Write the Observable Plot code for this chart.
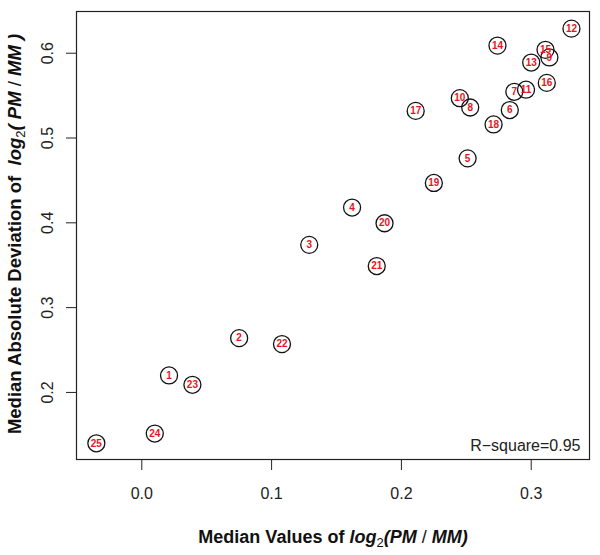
<!DOCTYPE html>
<html>
<head>
<meta charset="utf-8">
<script src="https://cdn.jsdelivr.net/npm/d3@7"></script>
<script src="https://cdn.jsdelivr.net/npm/@observablehq/plot@0.6"></script>
<style>
  html, body { margin: 0; padding: 0; background: #fff; }
  #chart svg { display: block; font-family: "Liberation Sans", Arial, sans-serif; }
</style>
</head>
<body>
<div id="chart"></div>
<script>
// Data
const labels = [1, 2, 3, 4, 5, 6, 7, 8, 9, 10, 11, 12, 13, 14, 15, 16, 17, 18, 19, 20, 21, 22, 23, 24, 25];
const medianValues = [0.021, 0.075, 0.129, 0.162, 0.251, 0.2835, 0.287, 0.253, 0.314, 0.245, 0.296, 0.331, 0.300, 0.274, 0.311, 0.312, 0.211, 0.271, 0.225, 0.187, 0.181, 0.108, 0.039, 0.010, -0.035];
const madValues = [0.220, 0.264, 0.374, 0.418, 0.476, 0.533, 0.5545, 0.536, 0.595, 0.547, 0.557, 0.629, 0.589, 0.609, 0.604, 0.565, 0.532, 0.516, 0.447, 0.3995, 0.349, 0.257, 0.209, 0.1515, 0.140];
const xTicks = [0, 0.1, 0.2, 0.3];
const yTicks = [0.2, 0.3, 0.4, 0.5, 0.6];
const rSquareText = "R\u2212square=0.95";

const points = labels.map((id, i) => ({id, x: medianValues[i], y: madValues[i]}));

const font = "'Liberation Sans', Arial, sans-serif";

const plot = Plot.plot({
  width: 600,
  height: 555,
  marginLeft: 76,
  marginRight: 11,
  marginTop: 11,
  marginBottom: 96,
  style: {fontFamily: font, background: "#fff"},
  x: {domain: [-0.0503, 0.3449]},
  y: {domain: [0.1209, 0.6492]},
  marks: [
    Plot.frame({stroke: "#222", strokeWidth: 1.2}),
    Plot.axisX({ticks: xTicks, tickSize: 11, tickPadding: 17, tickFormat: d3.format(".1f"), fontSize: 16, label: null, stroke: "#222", fill: "#222"}),
    Plot.axisY({ticks: yTicks, tickSize: 10, tickPadding: 14, tickRotate: -90, tickFormat: d3.format(".1f"), fontSize: 16, label: null, stroke: "#222", fill: "#222"}),
    Plot.dot(points, {x: "x", y: "y", r: 8.5, stroke: "#111", strokeWidth: 1.3, fill: "none"}),
    Plot.text(points, {x: "x", y: "y", text: d => String(d.id), fill: "#e8141c", fontWeight: "bold", fontSize: 10}),
    Plot.text([rSquareText], {text: d => d, frameAnchor: "bottom-right", dx: -9, dy: -9, fontSize: 16, fill: "#222", lineAnchor: "bottom"})
  ]
});

document.getElementById("chart").appendChild(plot);

// Axis titles with mixed bold / italic / subscript
const svg = d3.select(plot);
function addTitle(sel, prefix, size, inner) {
  sel.append("tspan").attr("font-weight", "bold").text(prefix);
  sel.append("tspan").attr("font-weight", "bold").attr("font-style", "italic").text("log");
  sel.append("tspan").attr("font-size", Math.round(size * 0.7)).attr("dy", 4).text("2");
  sel.append("tspan").attr("font-weight", "bold").attr("font-style", "italic").attr("dy", -4).text("(" + inner + "PM");
  sel.append("tspan").text(" / ");
  sel.append("tspan").attr("font-weight", "bold").attr("font-style", "italic").text("MM" + inner + ")");
}
const xt = svg.append("text")
  .attr("x", 333).attr("y", 543)
  .attr("text-anchor", "middle").attr("font-size", 18).attr("fill", "#111")
  .attr("font-family", font);
addTitle(xt, "Median Values of ", 18, "");

const yt = svg.append("text")
  .attr("transform", "translate(21,234) rotate(-90)")
  .attr("text-anchor", "middle").attr("font-size", 18.5).attr("fill", "#111")
  .attr("font-family", font);
addTitle(yt, "Median Absolute Deviation of  ", 18.5, " ");
</script>
</body>
</html>
